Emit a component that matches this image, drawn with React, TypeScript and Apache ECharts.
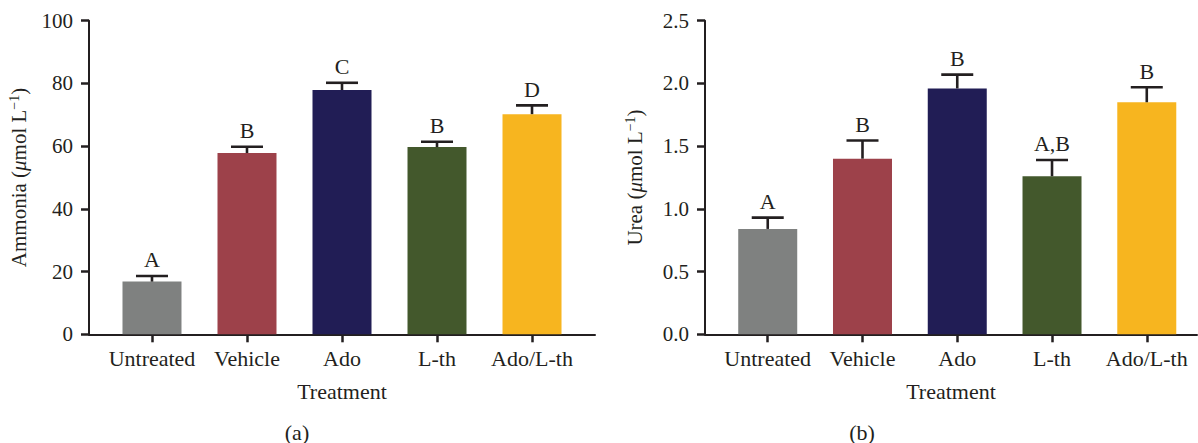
import React, { useEffect, useRef } from "react";
import * as echarts from "echarts";

const categories = ["Untreated", "Vehicle", "Ado", "L-th", "Ado/L-th"];
const colors = ["#7f8180", "#9d414a", "#211d55", "#43582c", "#f7b51f"];

const ammoniaMean = [16.8, 57.8, 77.9, 59.7, 70.2];
const ammoniaErr = [1.8, 2.0, 2.3, 1.7, 2.8];
const ammoniaLetters = ["A", "B", "C", "B", "D"];
const ammoniaTicks = [0, 20, 40, 60, 80, 100];

const ureaMean = [0.84, 1.40, 1.96, 1.26, 1.85];
const ureaErr = [0.09, 0.145, 0.11, 0.13, 0.12];
const ureaLetters = ["A", "B", "B", "A,B", "B"];
const ureaTicks = [0, 0.5, 1.0, 1.5, 2.0, 2.5];

const FONT = "'Liberation Serif', 'DejaVu Serif', serif";
const INK = "#231f20";

function errSeries(xIdx: number, means: number[], errs: number[], letters: string[]) {
  return {
    type: "custom",
    xAxisIndex: xIdx,
    yAxisIndex: xIdx,
    z: 5,
    data: means.map((m, i) => [i, m, errs[i]]),
    encode: { x: 0, y: 1 },
    renderItem: (params: any, api: any) => {
      const x = api.value(0);
      const m = api.value(1);
      const e = api.value(2);
      const base = api.coord([x, m]);
      const top = api.coord([x, m + e]);
      const half = 16;
      const st = { stroke: INK, lineWidth: 2.6 };
      return {
        type: "group",
        children: [
          { type: "line", shape: { x1: base[0], y1: base[1], x2: top[0], y2: top[1] }, style: st },
          { type: "line", shape: { x1: top[0] - half, y1: top[1], x2: top[0] + half, y2: top[1] }, style: st },
          {
            type: "text",
            x: top[0],
            y: top[1] - 5,
            style: {
              text: letters[params.dataIndex],
              textAlign: "center",
              textVerticalAlign: "bottom",
              fill: INK,
              font: `22px ${FONT}`,
            },
          },
        ],
      };
    },
  };
}

function barSeries(xIdx: number, means: number[]) {
  return {
    type: "bar",
    xAxisIndex: xIdx,
    yAxisIndex: xIdx,
    barWidth: 59,
    data: means.map((m, i) => ({ value: [i, m], itemStyle: { color: colors[i] } })),
  };
}

function xAxis(gridIndex: number, min: number, max: number) {
  return {
    type: "value",
    gridIndex,
    min,
    max,
    splitLine: { show: false },
    axisLine: { show: true, onZero: false, lineStyle: { color: INK, width: 2 } },
    axisTick: { show: true, customValues: [0, 1, 2, 3, 4], length: 8, lineStyle: { color: INK, width: 2.5 } },
    axisLabel: {
      show: true,
      customValues: [0, 1, 2, 3, 4],
      formatter: (v: number) => categories[Math.round(v)] ?? "",
      color: INK,
      fontFamily: FONT,
      fontSize: 22,
      margin: 13,
    },
    name: "Treatment",
    nameLocation: "middle",
    nameGap: 46,
    nameTextStyle: { color: INK, fontFamily: FONT, fontSize: 22 },
  };
}

function yAxis(gridIndex: number, ticks: number[], label: string, dec: number) {
  return {
    type: "value",
    gridIndex,
    min: ticks[0],
    max: ticks[ticks.length - 1],
    interval: ticks[1] - ticks[0],
    splitLine: { show: false },
    axisLine: { show: true, onZero: false, lineStyle: { color: INK, width: 2 } },
    axisTick: { show: true, length: 8, lineStyle: { color: INK, width: 2.5 } },
    axisLabel: {
      color: INK,
      fontFamily: FONT,
      fontSize: 21,
      margin: 16,
      formatter: (v: number) => v.toFixed(dec),
    },
    name: `{n|${label} (}{mu|μ}{n|mol L}{sup|−1}{n|)}`,
    nameLocation: "middle",
    nameRotate: 90,
    nameGap: 58,
    nameTextStyle: {
      color: INK,
      rich: {
        n: { fontFamily: FONT, fontSize: 21, color: INK },
        mu: { fontFamily: FONT, fontSize: 21, fontStyle: "italic", color: INK },
        sup: { fontFamily: FONT, fontSize: 14, color: INK, padding: [0, 0, 10, 0] },
      },
    },
  };
}

export default function App() {
  const ref = useRef<HTMLDivElement>(null);
  useEffect(() => {
    if (!ref.current) return;
    const chart = echarts.init(ref.current, undefined, { renderer: "svg" });
    chart.setOption({
      animation: false,
      backgroundColor: "#ffffff",
      grid: [
        { left: 89, right: 1198 - 595, top: 20.7, bottom: 443 - 334.3, containLabel: false },
        { left: 705, right: 1, top: 20.7, bottom: 443 - 334.3, containLabel: false },
      ],
      xAxis: [xAxis(0, -0.663, 4.663), xAxis(1, -0.662, 4.53)],
      yAxis: [
        yAxis(0, ammoniaTicks, "Ammonia", 0),
        yAxis(1, ureaTicks, "Urea", 1),
      ],
      series: [
        barSeries(0, ammoniaMean),
        errSeries(0, ammoniaMean, ammoniaErr, ammoniaLetters),
        barSeries(1, ureaMean),
        errSeries(1, ureaMean, ureaErr, ureaLetters),
      ],
      graphic: [
        { type: "text", x: 297, y: 432, style: { text: "(a)", textAlign: "center", textVerticalAlign: "middle", fill: INK, font: `22px ${FONT}` } },
        { type: "text", x: 862, y: 432, style: { text: "(b)", textAlign: "center", textVerticalAlign: "middle", fill: INK, font: `22px ${FONT}` } },
      ],
    });
    return () => chart.dispose();
  }, []);
  return (
    <div
      ref={ref}
      style={{ position: "fixed", left: 0, top: 0, width: 1198, height: 443, background: "#fff" }}
    />
  );
}
